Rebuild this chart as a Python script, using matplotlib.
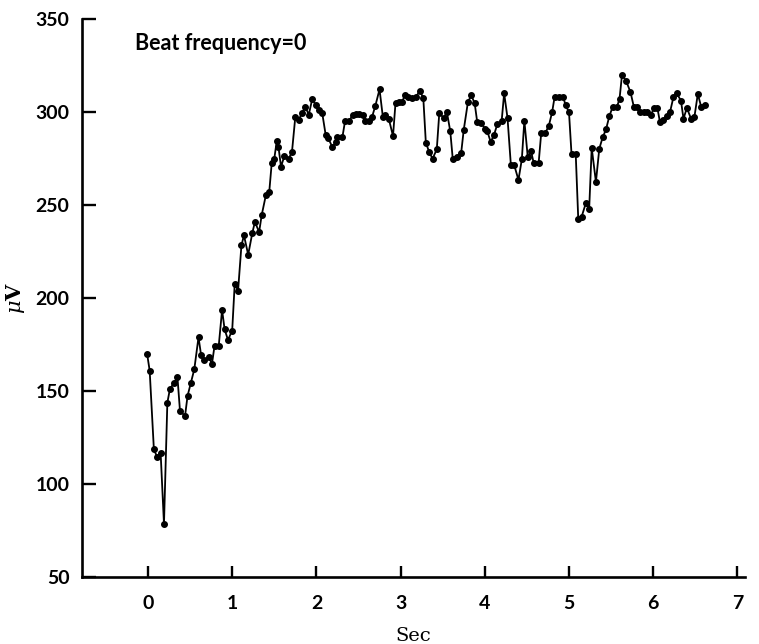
import matplotlib
matplotlib.use("Agg")
import matplotlib.pyplot as plt

# Readings (time in s, amplitude in microvolts)
sec = [
    -0.01, 0.02, 0.07, 0.11, 0.15, 0.19, 0.23, 0.26, 0.31, 0.35,
    0.38, 0.44, 0.47, 0.51, 0.55, 0.60, 0.63, 0.67, 0.72, 0.76,
    0.79, 0.84, 0.88, 0.91, 0.95, 1.00, 1.03, 1.07, 1.11, 1.14,
    1.19, 1.24, 1.27, 1.32, 1.35, 1.40, 1.44, 1.47, 1.50, 1.53,
    1.55, 1.58, 1.62, 1.67, 1.71, 1.75, 1.79, 1.83, 1.87, 1.91,
    1.95, 1.99, 2.03, 2.07, 2.11, 2.14, 2.19, 2.23, 2.25, 2.31,
    2.34, 2.39, 2.43, 2.47, 2.51, 2.55, 2.58, 2.63, 2.66, 2.70,
    2.75, 2.79, 2.82, 2.86, 2.91, 2.94, 2.98, 3.02, 3.05, 3.09,
    3.13, 3.18, 3.23, 3.27, 3.30, 3.34, 3.38, 3.43, 3.46, 3.51,
    3.55, 3.59, 3.62, 3.67, 3.72, 3.75, 3.80, 3.84, 3.88, 3.91,
    3.96, 4.00, 4.03, 4.07, 4.11, 4.15, 4.20, 4.23, 4.27, 4.31,
    4.35, 4.40, 4.44, 4.47, 4.51, 4.55, 4.58, 4.64, 4.67, 4.72,
    4.76, 4.80, 4.83, 4.88, 4.93, 4.96, 5.00, 5.03, 5.08, 5.11,
    5.15, 5.20, 5.24, 5.27, 5.32, 5.36, 5.40, 5.44, 5.48, 5.52,
    5.57, 5.60, 5.63, 5.68, 5.73, 5.77, 5.81, 5.84, 5.89, 5.93,
    5.97, 6.01, 6.05, 6.08, 6.12, 6.16, 6.20, 6.24, 6.28, 6.33,
    6.36, 6.40, 6.45, 6.49, 6.53, 6.57, 6.62,
]
microvolts = [
    169.7, 160.8, 118.5, 114.2, 116.7, 78.3, 143.5, 150.8, 154.3, 157.2,
    139.2, 136.4, 147.2, 154.3, 161.5, 178.7, 169.4, 166.5, 168.3, 164.4,
    174.0, 174.0, 193.4, 183.0, 177.3, 182.3, 207.4, 203.8, 228.2, 233.5,
    223.1, 235.0, 240.7, 235.3, 244.3, 255.1, 256.8, 272.6, 274.7, 284.4,
    280.9, 270.4, 276.2, 274.7, 278.3, 297.3, 295.5, 299.5, 302.4, 298.4,
    306.7, 303.8, 300.9, 299.1, 287.6, 285.9, 280.9, 283.7, 286.6, 286.6,
    294.8, 294.8, 298.4, 298.8, 298.8, 298.4, 295.2, 294.8, 297.0, 303.1,
    312.0, 297.0, 298.4, 296.2, 286.9, 304.8, 305.2, 305.2, 309.1, 308.0,
    307.4, 307.8, 311.3, 307.2, 283.3, 278.3, 274.7, 279.8, 299.5, 296.6,
    299.8, 289.5, 274.4, 275.8, 278.0, 290.2, 305.2, 308.8, 304.5, 294.5,
    294.1, 290.9, 289.5, 283.7, 287.6, 293.4, 294.8, 309.9, 296.6, 271.2,
    271.2, 263.3, 274.4, 295.2, 275.8, 278.7, 272.6, 272.6, 288.4, 288.7,
    292.3, 299.8, 308.1, 308.1, 308.1, 303.4, 299.8, 277.3, 277.3, 242.5,
    243.5, 250.8, 247.9, 280.5, 262.2, 280.1, 286.2, 290.5, 297.7, 302.7,
    302.7, 306.7, 319.9, 316.3, 310.6, 302.7, 302.4, 299.8, 299.8, 299.8,
    298.0, 302.0, 302.0, 294.5, 295.5, 297.7, 299.8, 307.7, 309.9, 305.9,
    296.2, 302.0, 296.2, 297.3, 309.5, 302.7, 303.8,
]

x_ticks = [0, 1, 2, 3, 4, 5, 6, 7]
y_ticks = [50, 100, 150, 200, 250, 300, 350]

label_font = "Lato"
serif_font = "DejaVu Serif"
plt.rcParams["mathtext.fontset"] = "dejavuserif"

fig = plt.figure(figsize=(7.59, 6.44), dpi=100, facecolor="white")
ax = fig.add_axes([0.108, 0.1045, 0.8735, 0.8665])

ax.plot(sec, microvolts, color="black", linewidth=1.3,
        marker="o", markersize=4.0, markerfacecolor="black",
        markeredgecolor="black")

ax.set_xlim(-0.784, 7.09)
ax.set_ylim(50, 350)
ax.set_xticks(x_ticks)
ax.set_yticks(y_ticks)

for side in ("top", "right"):
    ax.spines[side].set_visible(False)
for side in ("left", "bottom"):
    ax.spines[side].set_linewidth(1.9)

ax.tick_params(axis="both", direction="in", length=10, width=1.7,
               labelsize=14, pad=9)
ax.tick_params(axis="x", length=8, pad=13)
for lab in ax.get_xticklabels() + ax.get_yticklabels():
    lab.set_fontfamily(label_font)
    lab.set_fontweight("bold")

ax.set_xlabel("Sec", fontfamily=serif_font, fontsize=14, labelpad=11)
ax.set_ylabel(r"$\mu$V", fontfamily=serif_font, fontsize=15,
              fontweight="bold", labelpad=6)

ax.text(0.0796, 0.956, "Beat frequency=0", transform=ax.transAxes,
        fontfamily=label_font, fontweight="bold", fontsize=15.5,
        ha="left", va="center")

fig.savefig("out.png", dpi=100, facecolor="white")
